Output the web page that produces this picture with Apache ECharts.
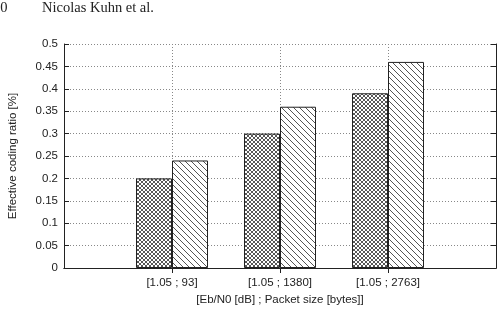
<!DOCTYPE html>
<html>
<head>
<meta charset="utf-8">
<script src="https://cdn.jsdelivr.net/npm/echarts@6/dist/echarts.min.js"></script>
<style>
  html, body { margin: 0; padding: 0; background: #fff; }
  #chart { width: 503px; height: 310px; }
</style>
</head>
<body>
<div id="chart"></div>
<script>
// data
var categories = ['', '[1.05 ; 93]', '[1.05 ; 1380]', '[1.05 ; 2763]', ''];
var crossValues = ['-', 0.20, 0.30, 0.39, '-'];
var hatchValues = ['-', 0.24, 0.36, 0.46, '-'];

// pattern tiles
function makeTile(size, dirs, color, lw) {
  var c = document.createElement('canvas');
  c.width = size; c.height = size;
  var ctx = c.getContext('2d');
  ctx.fillStyle = '#fff';
  ctx.fillRect(0, 0, size, size);
  ctx.strokeStyle = color;
  ctx.lineWidth = lw;
  for (var k = -1; k <= 1; k++) {
    if (dirs.indexOf('\\') >= 0) {
      ctx.beginPath();
      ctx.moveTo(k * size, 0);
      ctx.lineTo(k * size + size, size);
      ctx.stroke();
    }
    if (dirs.indexOf('/') >= 0) {
      ctx.beginPath();
      ctx.moveTo(k * size, size);
      ctx.lineTo(k * size + size, 0);
      ctx.stroke();
    }
  }
  return c;
}
var crossTile = makeTile(4, '\\/', '#444', 0.9);
var hatchTile = makeTile(6, '\\', '#555', 1);

var myChart = echarts.init(document.getElementById('chart'));

var dotted = { color: '#888', type: [1, 2], width: 1 };
var font = 'Liberation Sans';
var hasLabel = function (i, v) { return v !== ''; };

var option = {
  animation: false,
  textStyle: { fontFamily: font },
  grid: { left: 64, right: 7, top: 44, bottom: 42, outerBoundsMode: 'none', containLabel: false },
  graphic: [
    { type: 'text', left: -7, top: 1, style: { text: '10', font: '14.5px "Liberation Serif"', fill: '#222' } },
    { type: 'text', left: 42, top: 1, style: { text: 'Nicolas Kuhn et al.', font: '14.5px "Liberation Serif"', fill: '#222' } }
  ],
  xAxis: [
    {
      type: 'category',
      data: categories,
      boundaryGap: false,
      position: 'bottom',
      axisLine: { show: true, lineStyle: { color: '#222', width: 1 } },
      axisTick: { show: true, inside: true, length: 5, lineStyle: { color: '#222' }, interval: hasLabel },
      axisLabel: { color: '#222', fontSize: 11.5, margin: 9, interval: 0 },
      splitLine: { show: true, lineStyle: dotted, interval: hasLabel },
      name: '[Eb/N0 [dB] ; Packet size [bytes]]',
      nameLocation: 'middle',
      nameGap: 26,
      nameTextStyle: { color: '#222', fontSize: 11.5 }
    },
    {
      type: 'category',
      data: categories,
      boundaryGap: false,
      position: 'top',
      axisLine: { show: true, lineStyle: { color: '#222', width: 1 } },
      axisTick: { show: true, inside: true, length: 5, lineStyle: { color: '#222' }, interval: hasLabel },
      axisLabel: { show: false },
      splitLine: { show: false }
    }
  ],
  yAxis: [
    {
      type: 'value',
      min: 0, max: 0.5, interval: 0.05,
      position: 'left',
      axisLine: { show: true, lineStyle: { color: '#222', width: 1 } },
      axisTick: { show: true, inside: true, length: 5, lineStyle: { color: '#222' } },
      axisLabel: { color: '#222', fontSize: 11.5, margin: 6 },
      splitLine: { show: true, lineStyle: dotted },
      name: 'Effective coding ratio [%]',
      nameLocation: 'middle',
      nameGap: 45,
      nameTextStyle: { color: '#222', fontSize: 11.5 }
    },
    {
      type: 'value',
      min: 0, max: 0.5, interval: 0.05,
      position: 'right',
      axisLine: { show: true, lineStyle: { color: '#222', width: 1 } },
      axisTick: { show: true, inside: true, length: 5, lineStyle: { color: '#222' } },
      axisLabel: { show: false },
      splitLine: { show: false }
    }
  ],
  series: [
    {
      name: 'cross',
      type: 'bar',
      data: crossValues,
      barWidth: 36,
      barGap: '0%',
      itemStyle: { color: { image: crossTile, repeat: 'repeat' }, borderColor: '#222', borderWidth: 1 }
    },
    {
      name: 'hatch',
      type: 'bar',
      data: hatchValues,
      barWidth: 36,
      barGap: '0%',
      itemStyle: { color: { image: hatchTile, repeat: 'repeat' }, borderColor: '#222', borderWidth: 1 }
    }
  ]
};

myChart.setOption(option);
</script>
</body>
</html>
